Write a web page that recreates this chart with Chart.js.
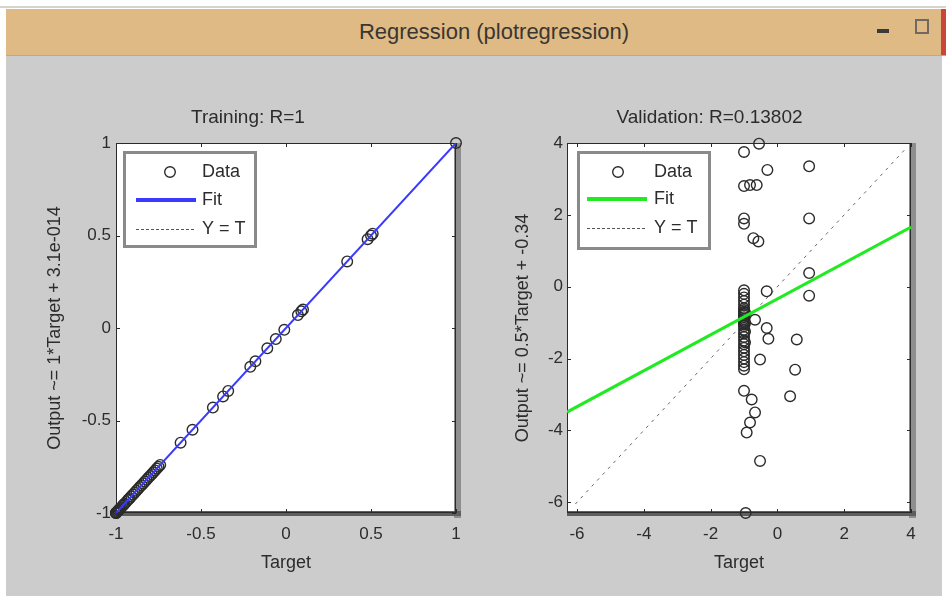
<!DOCTYPE html>
<html>
<head>
<meta charset="utf-8">
<script src="https://cdn.jsdelivr.net/npm/chart.js@4.4.0/dist/chart.umd.min.js"></script>
<style>
html,body{margin:0;padding:0;background:#ffffff;width:946px;height:597px;overflow:hidden;font-family:'Liberation Sans',Arial,sans-serif;}
#topline{position:absolute;left:0;top:6px;width:946px;height:2px;background:#d8d3cb;}
#titlebar{position:absolute;left:6px;top:9px;width:940px;height:47px;background:#dfba84;border-bottom:1px solid #cfa66c;box-sizing:border-box;}
#wintitle{position:absolute;left:350px;top:0;width:276px;height:46px;line-height:46px;text-align:center;font-size:22px;color:#3a3632;white-space:nowrap;}
#minbtn{position:absolute;left:871px;top:20px;width:12px;height:4px;background:#3a3a3a;}
#maxbtn{position:absolute;left:909px;top:10px;width:10px;height:11px;border:2px solid #6e6a62;}
#closebtn{position:absolute;left:935px;top:0;width:5px;height:46px;background:#c8463a;}
#panel{position:absolute;left:6px;top:56px;width:936px;height:540px;background:#cccccc;}
canvas{position:absolute;}
#c1{left:0;top:100px;}
#c2{left:480px;top:100px;}
</style>
</head>
<body>
<div id="topline"></div>
<div id="titlebar"><div id="wintitle">Regression (plotregression)</div><div id="minbtn"></div><div id="maxbtn"></div><div id="closebtn"></div></div>
<div id="panel"></div>
<canvas id="c1" width="480" height="490"></canvas>
<canvas id="c2" width="466" height="490"></canvas>
<script>
// ---------- Data ----------
const trainTarget = [-1,-1,-1,-0.995,-0.99,-0.985,-0.98,-0.975,-0.97,-0.96,-0.955,-0.95,-0.94,-0.93,-0.925,-0.92,-0.91,-0.9,-0.89,-0.88,-0.87,-0.86,-0.85,-0.84,-0.83,-0.82,-0.81,-0.8,-0.79,-0.78,-0.77,-0.76,-0.75,-0.74,-0.62,-0.55,-0.43,-0.37,-0.34,-0.21,-0.18,-0.11,-0.06,-0.01,0.07,0.09,0.1,0.36,0.48,0.5,0.51,1];
const trainOutput = [-1,-1,-1,-0.995,-0.99,-0.985,-0.98,-0.975,-0.97,-0.96,-0.955,-0.95,-0.94,-0.93,-0.925,-0.92,-0.91,-0.9,-0.89,-0.88,-0.87,-0.86,-0.85,-0.84,-0.83,-0.82,-0.81,-0.8,-0.79,-0.78,-0.77,-0.76,-0.75,-0.74,-0.62,-0.55,-0.43,-0.37,-0.34,-0.21,-0.18,-0.11,-0.06,-0.01,0.07,0.09,0.1,0.36,0.48,0.5,0.51,1];
const trainFitX = [-1, 1];
const trainFitY = [-1, 1];
const trainIdentX = [-1, 1];
const trainIdentY = [-1, 1];
const trainTicks = [-1, -0.5, 0, 0.5, 1];
const trainTickLabels = ['-1', '-0.5', '0', '0.5', '1'];

const valTarget = [-1,-0.55,-0.3,0.95,-1,-0.82,-0.62,-1,-1,-0.72,-0.57,0.95,0.95,0.95,-0.32,
  -1,-1,-1,-1,-1,-1,-1,-1,-1,-1,-1,-1,-1,-1,-1,-1,-1,-1,-1,-1,-1,-1,-1,-1,-1,-1,-1,-1,-0.97,-0.97,-0.97,-0.97,
  -0.67,-0.32,-0.27,-0.52,0.58,0.53,0.38,-1,-0.77,-0.67,-0.82,-0.92,-0.52,-0.95];
const valOutput = [3.75,3.98,3.25,3.35,2.8,2.83,2.83,1.9,1.75,1.35,1.26,1.9,0.38,-0.25,-0.13,
  -0.1,-0.2,-0.3,-0.4,-0.5,-0.6,-0.65,-0.7,-0.75,-0.8,-0.85,-0.9,-0.95,-1.0,-1.05,-1.1,-1.2,-1.3,-1.4,-1.5,-1.6,-1.7,-1.8,-1.9,-2.0,-2.1,-2.2,-2.3,-0.72,-1.02,-1.25,-1.55,
  -0.92,-1.15,-1.45,-2.03,-1.47,-2.31,-3.05,-2.9,-3.14,-3.5,-3.78,-4.06,-4.85,-6.3];
const valFitX = [-6.3, 4];
const valFitY = [-3.49, 1.66];
const valIdentX = [-6.05, 3.8];
const valIdentY = [-6.05, 3.8];
const valTicks = [-6, -4, -2, 0, 2, 4];
const valTickLabels = ['-6', '-4', '-2', '0', '2', '4'];

const legendLabels = ['Data', 'Fit', 'Y = T'];

// ---------- Helpers ----------
const pts = (xs, ys) => xs.map((x, i) => ({x: x, y: ys[i]}));
const TXT = '#2c2c2c';
Chart.defaults.font.family = "'Liberation Sans', Arial, sans-serif";
Chart.defaults.color = TXT;

const matlabAxes = {
  id: 'matlabAxes',
  beforeDraw(chart) {
    const {ctx, chartArea: a} = chart;
    ctx.save();
    ctx.fillStyle = '#ffffff';
    ctx.fillRect(a.left, a.top, a.right - a.left, a.bottom - a.top);
    ctx.restore();
  },
  beforeDatasetsDraw(chart) {
    const {ctx, chartArea: a, scales} = chart;
    ctx.save();
    ctx.fillStyle = '#8e8e8e';
    ctx.fillRect(a.right - 2, a.top, 7, a.bottom - a.top + 5);
    ctx.fillStyle = '#5e5e5e';
    ctx.fillRect(a.left, a.bottom - 2, a.right - a.left + 5, 5);
    ctx.strokeStyle = '#2a2a2a';
    ctx.lineWidth = 1;
    ctx.strokeRect(a.left + 0.5, a.top + 0.5, a.right - a.left - 1, a.bottom - a.top - 1);
    const len = 4;
    ctx.beginPath();
    scales.x.ticks.forEach(t => {
      const px = Math.round(scales.x.getPixelForValue(t.value)) + 0.5;
      ctx.moveTo(px, a.top); ctx.lineTo(px, a.top + len);
      ctx.moveTo(px, a.bottom); ctx.lineTo(px, a.bottom - len);
    });
    scales.y.ticks.forEach(t => {
      const py = Math.round(scales.y.getPixelForValue(t.value)) + 0.5;
      ctx.moveTo(a.left, py); ctx.lineTo(a.left + len, py);
      ctx.moveTo(a.right, py); ctx.lineTo(a.right - len, py);
    });
    ctx.stroke();
    ctx.restore();
  },
  afterDatasetsDraw(chart, args, o) {
    const {ctx, chartArea: a} = chart;
    const ds = chart.data.datasets;
    const fit = ds.find(d => d.label === legendLabels[1]);
    const data = ds.find(d => d.label === legendLabels[0]);
    const L = a.left + o.dx, T = a.top + o.dy;
    ctx.save();
    ctx.fillStyle = '#ffffff';
    ctx.fillRect(L, T, o.w, o.h);
    ctx.strokeStyle = '#8a8a8a';
    ctx.lineWidth = 3;
    ctx.strokeRect(L + 1.5, T + 1.5, o.w - 3, o.h - 3);
    const rows = [T + o.r0, T + o.r1, T + o.r2];
    ctx.beginPath();
    ctx.arc(L + o.cx, rows[0], data.pointRadius, 0, Math.PI * 2);
    ctx.strokeStyle = data.borderColor;
    ctx.lineWidth = data.borderWidth;
    ctx.stroke();
    ctx.beginPath();
    ctx.moveTo(L + o.lx0, rows[1]); ctx.lineTo(L + o.lx1, rows[1]);
    ctx.strokeStyle = fit.borderColor;
    ctx.lineWidth = 4;
    ctx.stroke();
    ctx.beginPath();
    ctx.setLineDash([3, 2]);
    ctx.moveTo(L + o.lx0, rows[2] + 0.5); ctx.lineTo(L + o.lx1, rows[2] + 0.5);
    ctx.strokeStyle = '#555555';
    ctx.lineWidth = 1;
    ctx.stroke();
    ctx.setLineDash([]);
    ctx.fillStyle = TXT;
    ctx.font = "18px 'Liberation Sans', Arial, sans-serif";
    ctx.textBaseline = 'middle';
    ctx.textAlign = 'left';
    legendLabels.forEach((t, i) => ctx.fillText(t, L + o.tx, rows[i]));
    ctx.restore();
  }
};

function makeChart(id, cfg) {
  return new Chart(document.getElementById(id), {
    type: 'scatter',
    data: {
      datasets: [
        {label: legendLabels[1], data: pts(cfg.fitX, cfg.fitY), showLine: true, borderColor: cfg.fitColor, borderWidth: cfg.fitWidth, pointRadius: 0, backgroundColor: cfg.fitColor},
        {label: legendLabels[0], data: pts(cfg.tx, cfg.ty), showLine: false, pointStyle: 'circle', pointRadius: 5.3, borderColor: '#2b2b2b', backgroundColor: 'rgba(0,0,0,0)', borderWidth: 1.4, clip: false},
        {label: legendLabels[2], data: pts(cfg.ix, cfg.iy), showLine: true, borderColor: '#666666', borderWidth: 1, borderDash: [3, 5], pointRadius: 0}
      ]
    },
    options: {
      responsive: false,
      animation: false,
      devicePixelRatio: 1,
      events: [],
      layout: {padding: {left: cfg.padLeft, right: cfg.padRight, top: 0, bottom: 0}},
      plugins: {
        legend: {display: false},
        tooltip: {enabled: false},
        title: {display: true, text: cfg.title, color: TXT, font: {size: 19, weight: 'normal'}, padding: {top: 6.6, bottom: 13.6}},
        matlabAxes: cfg.legend
      },
      scales: {
        x: {
          type: 'linear', min: cfg.min, max: cfg.max,
          grid: {display: false, drawTicks: false}, border: {display: false},
          afterBuildTicks: s => { s.ticks = cfg.ticks.map(v => ({value: v})); },
          afterFit: s => { s.height = 77; },
          ticks: {padding: 11, color: TXT, font: {size: 17}, maxRotation: 0, autoSkip: false,
                  callback: v => cfg.tickLabels[cfg.ticks.indexOf(v)]},
          title: {display: true, text: 'Target', color: TXT, font: {size: 18}, padding: {top: 0, bottom: 16.2}}
        },
        y: {
          type: 'linear', min: cfg.min, max: cfg.max,
          grid: {display: false, drawTicks: false}, border: {display: false},
          afterBuildTicks: s => { s.ticks = cfg.ticks.map(v => ({value: v})); },
          afterFit: s => { s.width = cfg.yWidth; },
          ticks: {padding: cfg.yTickPad, color: TXT, font: {size: 17}, autoSkip: false,
                  callback: v => cfg.tickLabels[cfg.ticks.indexOf(v)]},
          title: {display: true, text: cfg.ytitle, color: TXT, font: {size: 18}, padding: {top: 4.2, bottom: 0}}
        }
      }
    },
    plugins: [matlabAxes]
  });
}

makeChart('c1', {
  title: 'Training: R=1',
  ytitle: 'Output ~= 1*Target + 3.1e-014',
  tx: trainTarget, ty: trainOutput,
  fitX: trainFitX, fitY: trainFitY, ix: trainIdentX, iy: trainIdentY,
  fitColor: '#3a3aff', fitWidth: 2,
  min: -1, max: 1, ticks: trainTicks, tickLabels: trainTickLabels,
  padLeft: 40, padRight: 24, yWidth: 76, yTickPad: 5,
  legend: {dx: 7, dy: 8, w: 134, h: 97, r0: 21, r1: 49, r2: 78, cx: 47, lx0: 13, lx1: 73, tx: 79}
});

makeChart('c2', {
  title: 'Validation: R=0.13802',
  ytitle: 'Output ~= 0.5*Target + -0.34',
  tx: valTarget, ty: valOutput,
  fitX: valFitX, fitY: valFitY, ix: valIdentX, iy: valIdentY,
  fitColor: '#22ea22', fitWidth: 3,
  min: -6.3, max: 4, ticks: valTicks, tickLabels: valTickLabels,
  padLeft: 28, padRight: 35, yWidth: 59, yTickPad: 4,
  legend: {dx: 10, dy: 8, w: 134, h: 99, r0: 21, r1: 48, r2: 77, cx: 41, lx0: 10, lx1: 70, tx: 77}
});
</script>
</body>
</html>
